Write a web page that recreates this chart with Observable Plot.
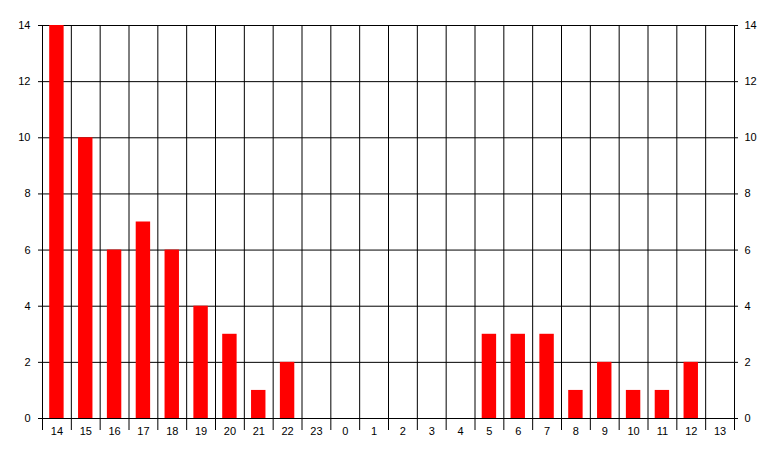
<!DOCTYPE html>
<html>
<head>
<meta charset="utf-8">
<script src="https://cdn.jsdelivr.net/npm/d3@7"></script>
<script src="https://cdn.jsdelivr.net/npm/@observablehq/plot@0.6"></script>
<style>
  html, body { margin: 0; padding: 0; background: #fff; }
  #chart svg { display: block; }
</style>
</head>
<body>
<div id="chart"></div>
<script>
const hours = ["14","15","16","17","18","19","20","21","22","23","0","1","2","3","4","5","6","7","8","9","10","11","12","13"];
const counts = [14,10,6,7,6,4,3,1,2,0,0,0,0,0,0,3,3,3,1,2,1,1,2,0];
const yTicks = [0,2,4,6,8,10,12,14];

const data = hours.map((h, i) => ({hour: h, count: counts[i]}));

const W = 777, H = 457;
const mL = 42, mR = 43, mT = 25, mB = 39;
const step = (W - mL - mR) / hours.length;

const chart = Plot.plot({
  width: W,
  height: H,
  marginLeft: mL,
  marginRight: mR,
  marginTop: mT,
  marginBottom: mB,
  style: {fontFamily: "'Liberation Sans', Arial, sans-serif", fontSize: "11px", color: "#000", background: "#fff"},
  x: {type: "band", domain: hours, paddingInner: 0.5, paddingOuter: 0.25, round: false, label: null},
  y: {domain: [0, 14], label: null},
  marks: [
    Plot.ruleY(yTicks, {stroke: "#000", strokeWidth: 1, insetLeft: -4, insetRight: -4}),
    Plot.ruleX(hours, {x: d => d, dx: -step / 2, stroke: "#000", insetBottom: -12}),
    Plot.ruleX([hours[hours.length - 1]], {x: d => d, dx: step / 2, stroke: "#000", insetBottom: -12}),
    Plot.barY(data, {x: "hour", y: "count", fill: "#ff0000"}),
    Plot.axisY({anchor: "left", ticks: yTicks, tickSize: 0, tickPadding: 12, label: null}),
    Plot.axisY({anchor: "right", ticks: yTicks, tickSize: 0, tickPadding: 10, label: null}),
    Plot.axisX({anchor: "bottom", tickSize: 0, tickPadding: 9, label: null})
  ]
});
document.getElementById("chart").appendChild(chart);
</script>
</body>
</html>
